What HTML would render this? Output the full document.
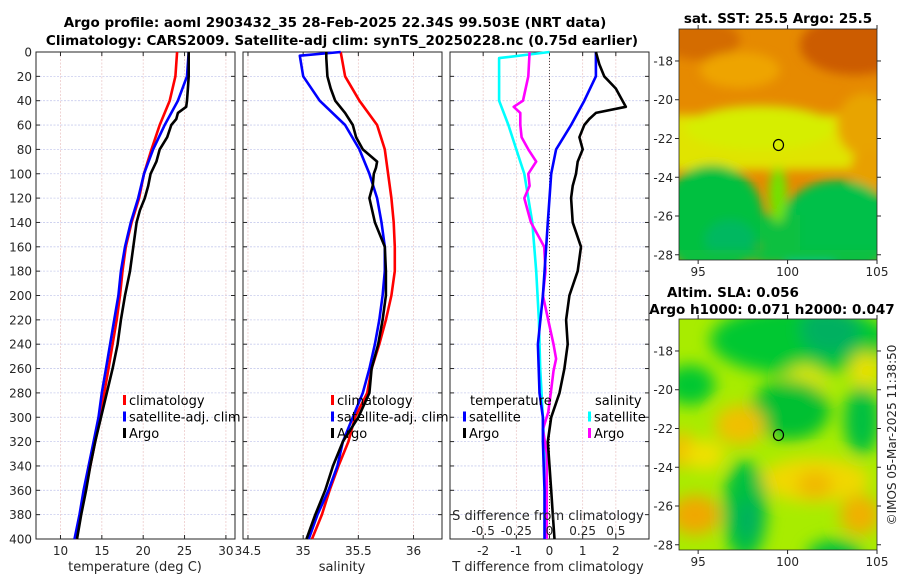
<!DOCTYPE html>
<html><head><meta charset="utf-8">
<style>
body{margin:0;background:#fff;}
svg{display:block;font-family:"DejaVu Sans","Liberation Sans",sans-serif;}
.tk{font-size:12px;fill:#262626;}
.tt{font-size:13.5px;font-weight:bold;fill:#000;}
.lg{font-size:13px;fill:#000;}
</style></head>
<body>
<svg id="fig" width="900" height="580" viewBox="0 0 900 580">
<defs>
<filter id="bl1" x="-20%" y="-20%" width="140%" height="140%"><feGaussianBlur stdDeviation="5"/></filter>
<filter id="bl2" x="-20%" y="-20%" width="140%" height="140%"><feGaussianBlur stdDeviation="8"/></filter>
<clipPath id="cm1"><rect x="679" y="29" width="198" height="231"/></clipPath>
<clipPath id="cm2"><rect x="679" y="319" width="198" height="231"/></clipPath>
</defs>
<text class="tt" x="335" y="27" text-anchor="middle">Argo profile: aoml 2903432_35 28-Feb-2025 22.34S 99.503E (NRT data)</text>
<text class="tt" x="342" y="45" text-anchor="middle">Climatology: CARS2009. Satellite-adj clim: synTS_20250228.nc (0.75d earlier)</text>

<!-- SST map -->
<g clip-path="url(#cm1)">
<rect x="679" y="29" width="198" height="231" fill="#e68a00"/>
<g filter="url(#bl1)">
<ellipse cx="855" cy="45" rx="55" ry="30" fill="#cc5c00"/>
<ellipse cx="700" cy="40" rx="40" ry="20" fill="#d46c00"/>
<ellipse cx="740" cy="70" rx="40" ry="18" fill="#eea400"/>
<rect x="660" y="115" width="240" height="55" fill="#e0e400"/>
<ellipse cx="760" cy="128" rx="75" ry="22" fill="#d6ee00"/>
<ellipse cx="865" cy="125" rx="28" ry="32" fill="#e8a400"/>
<ellipse cx="872" cy="170" rx="22" ry="22" fill="#e8a000"/>
<ellipse cx="712" cy="220" rx="52" ry="55" fill="#00c040"/>
<ellipse cx="838" cy="228" rx="58" ry="48" fill="#00c048"/>
<rect x="760" y="215" width="40" height="50" fill="#10c040"/>
<ellipse cx="778" cy="195" rx="9" ry="28" fill="#70e400"/>
<ellipse cx="810" cy="265" rx="25" ry="12" fill="#00c8a0"/>
<ellipse cx="730" cy="240" rx="25" ry="20" fill="#00b860"/>
<rect x="679" y="250" width="198" height="12" fill="#10c040"/>
</g>
</g>
<rect x="679" y="29" width="198" height="231" fill="none" stroke="#262626" stroke-width="0.8"/>
<ellipse cx="778.5" cy="145" rx="5" ry="5.5" fill="none" stroke="#000" stroke-width="1.2"/>
<text class="tt" x="778" y="23" text-anchor="middle">sat. SST: 25.5 Argo: 25.5</text>

<!-- SLA map -->
<g clip-path="url(#cm2)">
<rect x="679" y="319" width="198" height="231" fill="#a8ec00"/>
<g filter="url(#bl2)">
<ellipse cx="800" cy="340" rx="90" ry="35" fill="#00c830"/>
<ellipse cx="830" cy="330" rx="30" ry="25" fill="#00b060"/>
<ellipse cx="805" cy="385" rx="22" ry="20" fill="#e0e800"/>
<ellipse cx="690" cy="385" rx="25" ry="20" fill="#00c830"/>
<ellipse cx="790" cy="410" rx="40" ry="30" fill="#00c030"/>
<ellipse cx="862" cy="420" rx="18" ry="35" fill="#00c040"/>
<ellipse cx="865" cy="370" rx="15" ry="18" fill="#e8e000"/>
<ellipse cx="740" cy="425" rx="25" ry="20" fill="#f0c000"/>
<ellipse cx="682" cy="450" rx="15" ry="18" fill="#f0c000"/>
<ellipse cx="815" cy="480" rx="55" ry="22" fill="#f0d800"/>
<ellipse cx="815" cy="485" rx="18" ry="14" fill="#f0b800"/>
<ellipse cx="860" cy="515" rx="20" ry="20" fill="#f0b000"/>
<ellipse cx="745" cy="510" rx="22" ry="50" fill="#00c040"/>
<ellipse cx="748" cy="520" rx="10" ry="20" fill="#00b060"/>
<ellipse cx="695" cy="515" rx="25" ry="20" fill="#f0a800"/>
<ellipse cx="835" cy="555" rx="28" ry="15" fill="#00c040"/>
<ellipse cx="705" cy="455" rx="20" ry="15" fill="#f0e000"/>
</g>
</g>
<rect x="679" y="319" width="198" height="231" fill="none" stroke="#262626" stroke-width="0.8"/>
<ellipse cx="778.5" cy="435" rx="5" ry="5.5" fill="none" stroke="#000" stroke-width="1.2"/>
<text class="tt" x="733" y="297" text-anchor="middle">Altim. SLA: 0.056</text>
<text class="tt" x="772" y="314" text-anchor="middle">Argo h1000: 0.071 h2000: 0.047</text>
<text class="tk" x="0" y="0" transform="translate(896,435) rotate(-90)" text-anchor="middle">©IMOS 05-Mar-2025 11:38:50</text>
<g id="maxes"></g>
<g id="panels"></g>
</svg>
<script>
// ---------- data ----------
const depthTicks=[0,20,40,60,80,100,120,140,160,180,200,220,240,260,280,300,320,340,360,380,400];
const tempTicks=[10,15,20,25,30];
const salTicks=[34.5,35,35.5,36];
const tdiffTicks=[-2,-1,0,1,2];
const sdiffTicks=[-0.5,-0.25,0,0.25,0.5];
const lonTicks=[95,100,105];
const latTicks=[-18,-20,-22,-24,-26,-28];

const tDepth=[0,20,40,60,80,100,120,140,160,180,200,220,240,260,280,300,320,340,360,380,400];
const tClim=[24.1,23.9,23.2,22.0,21.0,20.1,19.5,18.6,17.9,17.5,17.2,16.8,16.3,15.8,15.3,14.8,14.2,13.6,13.0,12.4,11.9];
const tSat=[25.5,25.3,24.2,22.6,21.2,20.1,19.4,18.5,17.8,17.3,17.0,16.5,16.0,15.5,15.0,14.6,14.0,13.4,12.8,12.3,11.7];
const argoTDepth=[0,20,30,40,45,50,55,60,70,80,90,100,110,120,130,140,160,180,200,220,240,260,280,300,320,340,360,380,400];
const argoT=[25.5,25.5,25.4,25.3,25.2,24.2,24.0,23.4,22.9,22.0,21.6,20.9,20.6,20.2,19.6,19.2,18.8,18.4,17.8,17.3,16.9,16.3,15.6,14.9,14.2,13.6,13.1,12.5,12.0];

const sDepth=[0,20,40,60,80,100,120,140,160,180,200,220,240,260,280,300,320,340,360,380,400];
const sClim=[35.34,35.38,35.51,35.67,35.74,35.77,35.80,35.82,35.83,35.83,35.80,35.75,35.69,35.62,35.58,35.47,35.41,35.32,35.24,35.17,35.08];
const satSDepth=[0,3,20,40,60,80,100,120,140,160,180,200,220,240,260,280,300,320,340,360,380,400];
const sSat=[35.34,34.97,35.0,35.15,35.38,35.51,35.60,35.67,35.71,35.74,35.74,35.72,35.69,35.65,35.60,35.54,35.45,35.36,35.31,35.23,35.13,35.05];
const argoSDepth=[0,5,20,30,40,50,60,70,80,90,95,100,110,120,140,160,180,200,220,240,260,280,300,320,340,360,380,400];
const argoS=[35.21,35.21,35.22,35.25,35.29,35.38,35.45,35.48,35.54,35.67,35.66,35.64,35.63,35.60,35.65,35.74,35.75,35.75,35.72,35.68,35.62,35.60,35.50,35.36,35.27,35.20,35.11,35.03];

const dtSatDepth=[0,20,40,60,80,100,120,140,160,200,240,280,300,320,360,400];
const dtSat=[1.4,1.4,1.05,0.65,0.2,0.05,0.0,-0.05,-0.1,-0.2,-0.35,-0.3,-0.2,-0.2,-0.15,-0.15];
const dtArgoDepth=[0,10,20,30,40,45,50,55,60,70,80,90,100,110,120,140,160,180,200,220,240,260,280,300,320,340,360,380,400];
const dtArgo=[1.4,1.5,1.65,2.0,2.2,2.3,1.4,1.2,1.05,0.9,1.0,0.85,0.8,0.7,0.65,0.7,0.95,0.85,0.6,0.5,0.55,0.45,0.3,0.05,-0.05,0.0,0.05,0.1,0.15];
const dsSatDepth=[0,5,40,60,80,100,140,180,220,260,300,340,400];
const dsSat=[0.0,-0.38,-0.38,-0.31,-0.25,-0.19,-0.13,-0.1,-0.08,-0.07,-0.05,-0.03,-0.03];
const dsArgoDepth=[0,20,40,45,50,60,70,80,90,100,110,120,140,150,160,180,200,220,240,252,262,280,296,310,330,358,400];
const dsArgo=[-0.15,-0.16,-0.2,-0.27,-0.22,-0.22,-0.21,-0.16,-0.1,-0.16,-0.15,-0.19,-0.14,-0.09,-0.04,-0.03,-0.05,-0.01,0.03,0.05,0.03,0.01,-0.01,-0.05,-0.02,-0.02,-0.02];

// ---------- geometry ----------
const NS='http://www.w3.org/2000/svg';
const Y0=52,Y1=539;
const yD=d=>Y0+(d/400)*(Y1-Y0);
function mk(tag,attrs,parent){const e=document.createElementNS(NS,tag);for(const k in attrs)e.setAttribute(k,attrs[k]);parent.appendChild(e);return e;}
const P=document.getElementById('panels');
const panels=[
 {name:'temperature',x0:36,x1:235,d0:7.04,d1:31.1},
 {name:'salinity',x0:243,x1:442,d0:34.455,d1:36.258},
 {name:'tdiff',x0:450,x1:649,d0:-3,d1:3}
];
const xs=panels.map(p=>v=>p.x0+(v-p.d0)/(p.d1-p.d0)*(p.x1-p.x0));
const xS=v=>xs[2](v*4);

function frame(p,i,ticks,labels){
  const g=mk('g',{},P);
  
  
  depthTicks.forEach(d=>{
    const l=mk('line',{x1:p.x0,x2:p.x1,y1:yD(d),y2:yD(d),stroke:'#c8cced','stroke-width':0.8,'stroke-dasharray':'2,1.5'},g);
    
    
    mk('line',{x1:p.x0,x2:p.x0+4,y1:yD(d),y2:yD(d),stroke:'#262626'},g);
    mk('line',{x1:p.x1,x2:p.x1-4,y1:yD(d),y2:yD(d),stroke:'#262626'},g);
    if(i===0){const t=mk('text',{x:p.x0-4,y:yD(d)+4.5,'text-anchor':'end',class:'tk'},g);t.textContent=d;
      
      }
  });
  ticks.forEach((v,k)=>{
    const x=xs[i](v);
    const l=mk('line',{x1:x,x2:x,y1:Y0,y2:Y1,stroke:'#eccaca','stroke-width':0.8,'stroke-dasharray':'2,1.5'},g);
    
    
    mk('line',{x1:x,x2:x,y1:Y1,y2:Y1-4,stroke:'#262626'},g);
    mk('line',{x1:x,x2:x,y1:Y0,y2:Y0+4,stroke:'#262626'},g);
    const t=mk('text',{x:x,y:555,'text-anchor':'middle',class:'tk'},g);t.textContent=labels[k];
    
    
  });
  const r=mk('rect',{x:p.x0,y:Y0,width:p.x1-p.x0,height:Y1-Y0,fill:'none',stroke:'#262626','stroke-width':1},g);
  
  
  return g;
}
function line(g,xf,vals,deps,color,name,w){
  const pts=vals.map((v,k)=>xf(v).toFixed(1)+','+yD(deps[k]).toFixed(1)).join(' ');
  const l=mk('polyline',{points:pts,fill:'none',stroke:color,'stroke-width':w||2.6,'stroke-linejoin':'round'},g);
  
  
}
function txt(g,x,y,s,cls,name,anchor){const t=mk('text',{x:x,y:y,class:cls,'text-anchor':anchor||'start'},g);t.textContent=s;
  
  return t;}
function legend(g,x,y,items){
  items.forEach((it,k)=>{
    const b=mk('rect',{x:x,y:y+k*16.5-10,width:3,height:10,fill:it[1]},g);
    
    
    txt(g,x+6,y+k*16.5,it[0],'lg','legend-entry');
  });
}
// panel 1
let g=frame(panels[0],0,tempTicks,tempTicks.map(String));
line(g,xs[0],tClim,tDepth,'#ff0000','temp-climatology-line');
line(g,xs[0],tSat,tDepth,'#0000ff','temp-satellite-line');
line(g,xs[0],argoT,argoTDepth,'#000000','temp-argo-line');
txt(g,135,571,'temperature (deg C)','tk','temperature-axis-title','middle').style.fontSize='13px';
legend(g,123,405,[['climatology','#ff0000'],['satellite-adj. clim','#0000ff'],['Argo','#000']]);
// panel 2
g=frame(panels[1],1,salTicks,['34.5','35','35.5','36']);
line(g,xs[1],sClim,sDepth,'#ff0000','sal-climatology-line');
line(g,xs[1],sSat,satSDepth,'#0000ff','sal-satellite-line');
line(g,xs[1],argoS,argoSDepth,'#000000','sal-argo-line');
txt(g,342,571,'salinity','tk','salinity-axis-title','middle').style.fontSize='13px';
legend(g,331,405,[['climatology','#ff0000'],['satellite-adj. clim','#0000ff'],['Argo','#000']]);
// panel 3
g=frame(panels[2],2,tdiffTicks,tdiffTicks.map(String));
const z=mk('line',{x1:xs[2](0),x2:xs[2](0),y1:Y0,y2:Y1,stroke:'#444','stroke-width':1,'stroke-dasharray':'1,2'},g);


line(g,xS,dsSat,dsSatDepth,'#00ffff','sdiff-satellite-line');
line(g,xS,dsArgo,dsArgoDepth,'#ff00ff','sdiff-argo-line');
line(g,xs[2],dtSat,dtSatDepth,'#0000ff','tdiff-satellite-line');
line(g,xs[2],dtArgo,dtArgoDepth,'#000000','tdiff-argo-line');
sdiffTicks.forEach(v=>{txt(g,xS(v),535,String(v),'tk','sdiff-tick-label','middle');});
txt(g,548,520,'S difference from climatology','tk','sdiff-axis-title','middle').style.fontSize='13px';
txt(g,548,571,'T difference from climatology','tk','tdiff-axis-title','middle').style.fontSize='13px';
txt(g,470,405,'temperature','lg','legend-title-temperature');
txt(g,595,405,'salinity','lg','legend-title-salinity');
legend(g,463,421.5,[['satellite','#0000ff'],['Argo','#000']]);
legend(g,588,421.5,[['satellite','#00ffff'],['Argo','#ff00ff']]);

// map axes
const M=document.getElementById('maxes');
const maps=[{y0:29,y1:260,la0:-16.35,la1:-28.27,name:'sst'},{y0:319,y1:550,la0:-16.35,la1:-28.27,name:'sla'}];
const xLon=v=>679+(v-93.93)/(105-93.93)*198;
maps.forEach(m=>{
  const yL=v=>m.y0+(v-m.la0)/(m.la1-m.la0)*(m.y1-m.y0);
  latTicks.forEach(v=>{
    mk('line',{x1:679,x2:675,y1:yL(v),y2:yL(v),stroke:'#262626'},M);
    mk('line',{x1:877,x2:881,y1:yL(v),y2:yL(v),stroke:'#262626'},M);
    const t=mk('text',{x:673,y:yL(v)+4.5,'text-anchor':'end',class:'tk'},M);t.textContent=v;
    
    
  });
  lonTicks.forEach(v=>{
    mk('line',{x1:xLon(v),x2:xLon(v),y1:m.y1,y2:m.y1+4,stroke:'#262626'},M);
    mk('line',{x1:xLon(v),x2:xLon(v),y1:m.y0,y2:m.y0-4,stroke:'#262626'},M);
    const t=mk('text',{x:xLon(v),y:m.y1+16,'text-anchor':'middle',class:'tk'},M);t.textContent=v;
    
    
  });
});
</script>
</body></html>
